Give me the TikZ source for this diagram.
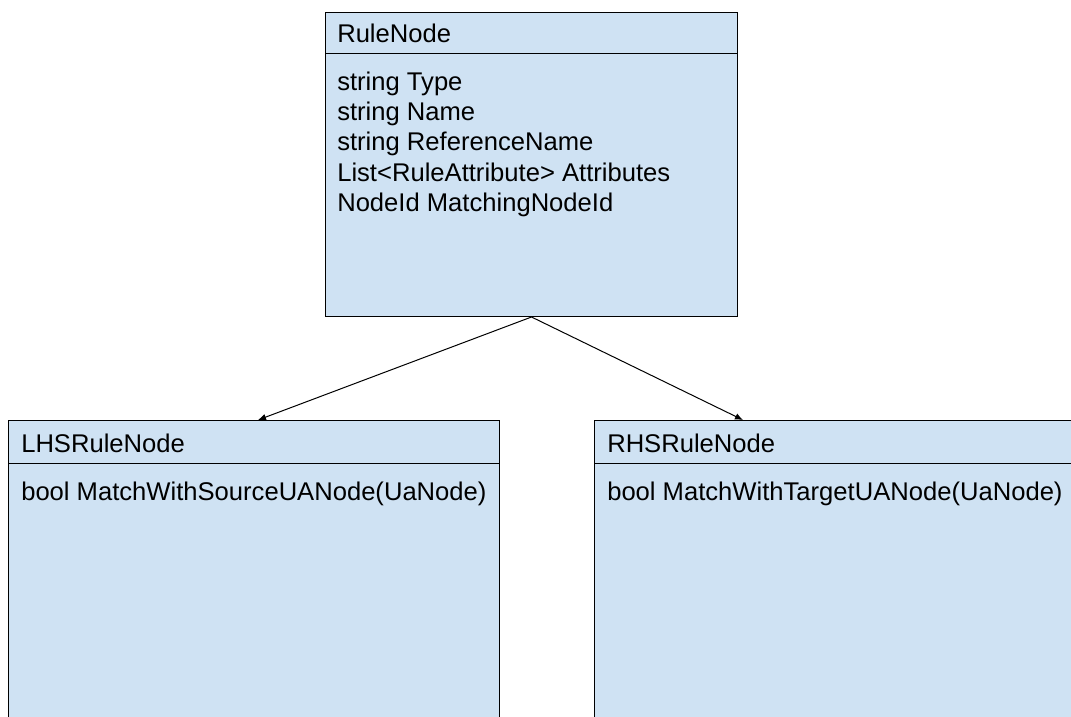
\documentclass[tikz,border=0pt]{standalone}
\usepackage{fontspec}
\setmainfont{Liberation Sans}
\usetikzlibrary{arrows.meta}
\definecolor{classfill}{HTML}{CFE2F3}
\begin{document}
\begin{tikzpicture}[x=0.75pt, y=-0.75pt,
  classbox/.style={draw=black, line width=0.75pt, fill=classfill, rectangle,
    inner sep=0pt, anchor=north west},
  divider/.style={draw=black, line width=0.75pt},
  txt/.style={inner sep=0pt, anchor=base west, font=\fontsize{19.2}{22.5}\selectfont},
  inherit/.style={draw=black, line width=0.75pt, -{Latex[length=6pt, width=5pt]}}]
\useasboundingbox (0,0) rectangle (1071,717);
\clip (0,0) rectangle (1071,717);

% class boxes
\node[classbox, minimum width=412*0.75pt, minimum height=304*0.75pt] (rule) at (325,12) {};
\node[classbox, minimum width=491*0.75pt, minimum height=400*0.75pt] (lhs) at (8,420) {};
\node[classbox, minimum width=520*0.75pt, minimum height=400*0.75pt] (rhs) at (594,420) {};

% compartment dividers
\draw[divider] (rule.west |- 0,54) -- (rule.east |- 0,54);
\draw[divider] (lhs.west |- 0,463) -- (lhs.east |- 0,463);
\draw[divider] (rhs.west |- 0,463) -- (rhs.east |- 0,463);

% class names
\node[txt] (ruletitle) at (337,43) {RuleNode};
\node[txt] (lhstitle) at (21,452) {LHSRuleNode};
\node[txt] (rhstitle) at (607,452) {RHSRuleNode};

% members
\node[txt] (rulebody) at (337,91) {\vtop{\baselineskip=22.5pt
  \hbox{string Type}\hbox{string Name}\hbox{string ReferenceName}%
  \hbox{List<RuleAttribute> Attributes}\hbox{NodeId MatchingNodeId}}};
\node[txt] (lhsbody) at (21,500) {bool MatchWithSourceUANode(UaNode)};
\node[txt] (rhsbody) at (607,500) {bool MatchWithTargetUANode(UaNode)};

% inheritance arrows
\coordinate (lhsin) at (258,420);
\coordinate (rhsin) at (743,420);
\draw[inherit] (rule.south) -- (lhsin);
\draw[inherit] (rule.south) -- (rhsin);
\end{tikzpicture}
\end{document}
